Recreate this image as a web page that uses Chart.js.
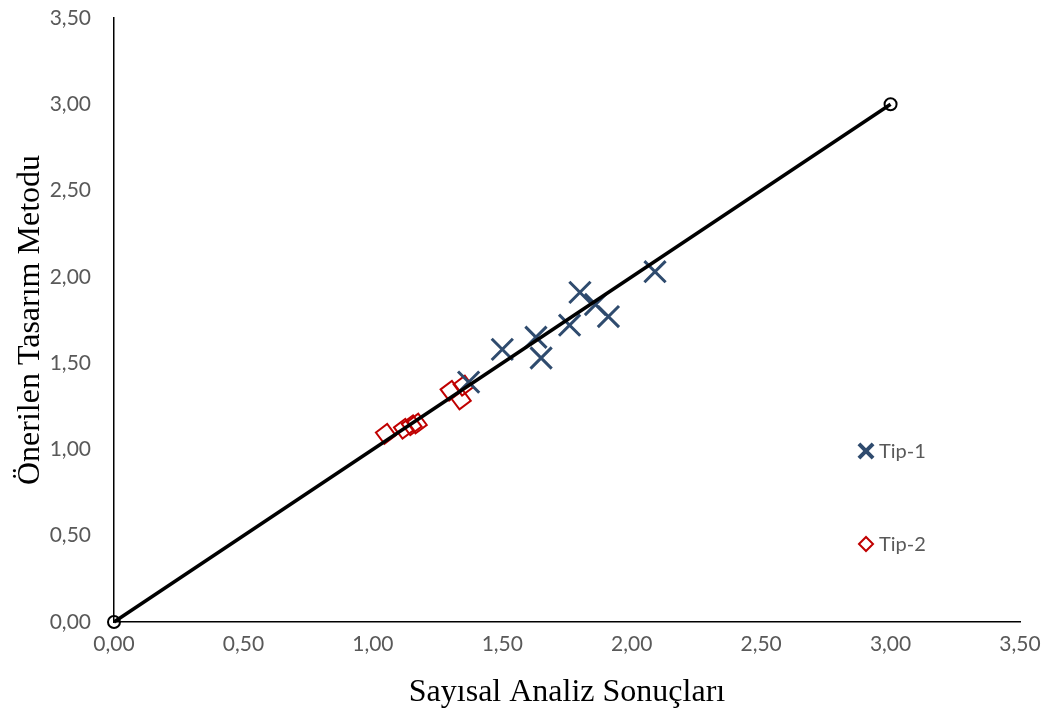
<!DOCTYPE html>
<html>
<head>
<meta charset="utf-8">
<script src="https://cdn.jsdelivr.net/npm/chart.js@4/dist/chart.umd.min.js"></script>
<style>
html,body{margin:0;padding:0;background:#fff;}
#wrap{width:1052px;height:715px;position:relative;}
</style>
</head>
<body>
<div id="wrap"><canvas id="c" width="1052" height="715"></canvas></div>
<script>
// ---- data ----
const tip1X = [2.09, 1.80, 1.86, 1.91, 1.76, 1.63, 1.65, 1.50, 1.37];
const tip1Y = [2.03, 1.91, 1.84, 1.77, 1.72, 1.65, 1.53, 1.58, 1.39];
const tip2X = [1.05, 1.12, 1.15, 1.17, 1.30, 1.34, 1.35];
const tip2Y = [1.09, 1.12, 1.14, 1.15, 1.34, 1.29, 1.37];
const lineX = [0, 3];
const lineY = [0, 3];
const seriesNames = ['Tip-1', 'Tip-2'];
const xTitle = 'Sayısal Analiz Sonuçları';
const yTitle = 'Önerilen Tasarım Metodu';

const toPts = (xs, ys) => xs.map((x, i) => ({x: x, y: ys[i]}));
const fmt = v => v.toFixed(2).replace('.', ',');

const BLUE = '#2F4B6E';
const RED = '#C00000';
const TICKC = '#595959';

const legendPlugin = {
  id: 'customLegend',
  afterDraw(chart) {
    const ctx = chart.ctx;
    ctx.save();
    const items = [
      {name: seriesNames[0], style: 'crossRot', color: BLUE, r: 10, lw: 4, y: 451},
      {name: seriesNames[1], style: 'rectRot', color: RED, r: 7, lw: 2, y: 544}
    ];
    items.forEach(it => {
      ctx.strokeStyle = it.color;
      ctx.fillStyle = 'rgba(0,0,0,0)';
      ctx.lineWidth = it.lw;
      Chart.helpers.drawPoint(ctx, {pointStyle: it.style, radius: it.r, rotation: 0, borderWidth: it.lw}, 866, it.y);
      ctx.fillStyle = TICKC;
      ctx.font = '20px Lato';
      ctx.textBaseline = 'middle';
      ctx.textAlign = 'left';
      ctx.fillText(it.name, 879, it.y + 1);
    });
    ctx.restore();
  }
};

new Chart(document.getElementById('c'), {
  type: 'scatter',
  data: {
    datasets: [
      {
        label: 'line',
        data: toPts(lineX, lineY),
        showLine: true,
        clip: false,
        borderColor: '#000',
        borderWidth: 3.5,
        pointStyle: 'circle',
        pointRadius: 6,
        pointBorderWidth: 2,
        pointBorderColor: '#000',
        pointBackgroundColor: 'rgba(0,0,0,0)',
        order: 0
      },
      {
        label: seriesNames[0],
        data: toPts(tip1X, tip1Y),
        pointStyle: 'crossRot',
        pointRadius: 15,
        pointBorderWidth: 3,
        borderColor: BLUE,
        backgroundColor: BLUE,
        order: 1
      },
      {
        label: seriesNames[1],
        data: toPts(tip2X, tip2Y),
        pointStyle: 'rectRot',
        pointRotation: 8,
        pointRadius: 10,
        pointBorderWidth: 2,
        borderColor: RED,
        backgroundColor: 'rgba(0,0,0,0)',
        order: 2
      }
    ]
  },
  options: {
    responsive: false,
    animation: false,
    layout: {padding: {left: 0, right: 32, top: 0, bottom: 0}},
    plugins: {legend: {display: false}, tooltip: {enabled: false}},
    scales: {
      x: {
        type: 'linear', min: 0, max: 3.5,
        grid: {display: false, drawTicks: false},
        border: {display: true, color: '#000', width: 1.5},
        ticks: {stepSize: 0.5, color: TICKC, font: {family: 'Lato', size: 21}, padding: 10, callback: v => fmt(v), maxRotation: 0},
        title: {display: true, text: xTitle, color: '#000', font: {family: 'Liberation Serif', size: 32}, padding: {top: 4, bottom: 3}},
        afterFit(s) { s.height = 93; s.paddingLeft = 0; s.paddingRight = 32; }
      },
      y: {
        type: 'linear', min: 0, max: 3.5,
        grid: {display: false, drawTicks: false},
        border: {display: true, color: '#000', width: 1.5},
        ticks: {stepSize: 0.5, color: TICKC, font: {family: 'Lato', size: 21}, padding: 23, callback: v => fmt(v)},
        title: {display: true, text: yTitle, color: '#000', font: {family: 'Liberation Serif', size: 32}, padding: {top: 11, bottom: 4}},
        afterFit(s) { s.width = 114; s.paddingTop = 15; s.paddingBottom = 0; }
      }
    }
  },
  plugins: [legendPlugin]
});
</script>
</body>
</html>
